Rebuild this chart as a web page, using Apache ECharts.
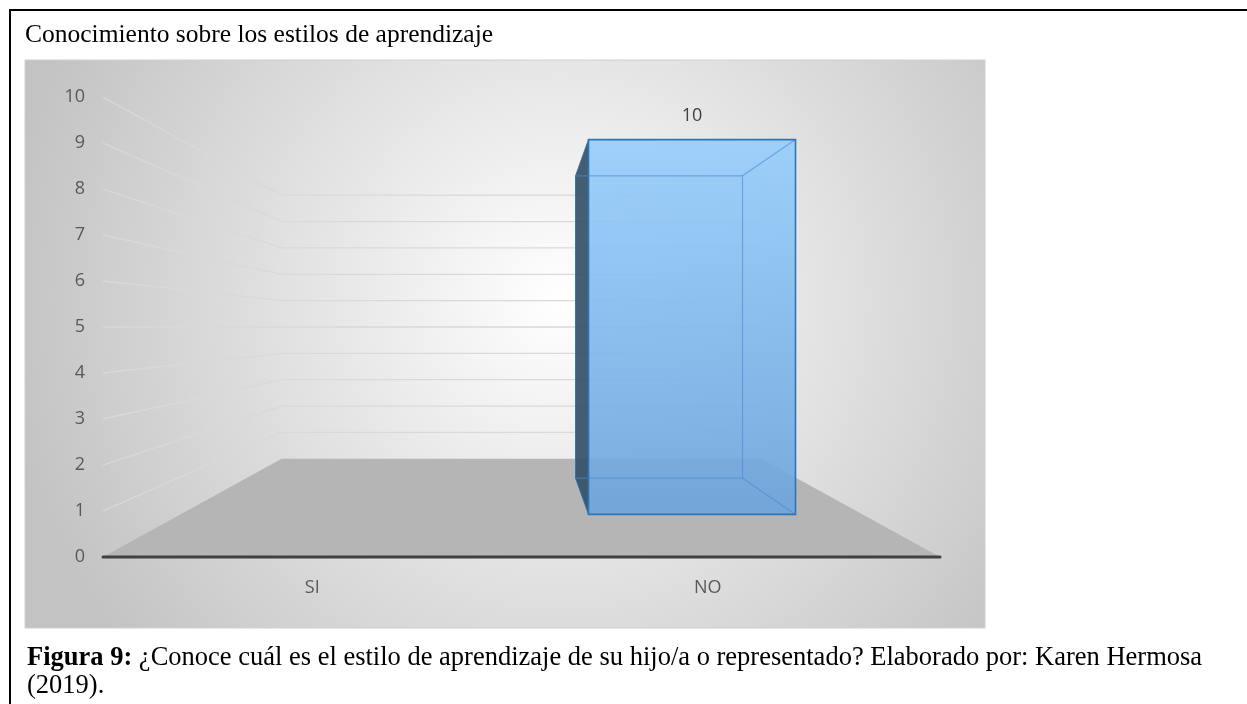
<!DOCTYPE html>
<html>
<head>
<meta charset="utf-8">
<title>Conocimiento sobre los estilos de aprendizaje</title>
<script src="https://cdn.jsdelivr.net/npm/echarts/dist/echarts.min.js"></script>
<style>
  html, body { margin: 0; padding: 0; background: #fff; }
  #chart { width: 1247px; height: 704px; }
</style>
</head>
<body>
<div id="chart"></div>
<script>
const categories = ['SI', 'NO'];
const values = [0, 10];
const yTicks = [0, 1, 2, 3, 4, 5, 6, 7, 8, 9, 10];
const titleText = 'Conocimiento sobre los estilos de aprendizaje';
const captionBold = 'Figura 9:';
const captionLine1 = ' ¿Conoce cuál es el estilo de aprendizaje de su hijo/a o representado? Elaborado por: Karen Hermosa';
const captionLine2 = '(2019).';

// perspectiva: punto de fuga sobre el plano frontal (unidades de datos)
const EYE = [1, 5];
const DEPTH = 0.745;     // 1/s = 1 + DEPTH * z
const BAR_HALF = 0.3035; // media anchura de la columna (unidades de categoria)
const BAR_Z = [0.305, 0.70];

function project(api, x, y, z) {
  const p = api.coord([x, y]);
  const v = api.coord(EYE);
  const s = 1 / (1 + DEPTH * z);
  return [v[0] + s * (p[0] - v[0]), v[1] + s * (p[1] - v[1])];
}

function seg(a, b, style) {
  return { type: 'line', shape: { x1: a[0], y1: a[1], x2: b[0], y2: b[1] }, style: style };
}

const chart = echarts.init(document.getElementById('chart'));

const option = {
  animation: false,
  title: {
    text: titleText,
    left: 20,
    top: 17,
    textStyle: { fontFamily: 'Liberation Serif', fontSize: 25.5, fontWeight: 'normal', color: '#000' }
  },
  graphic: {
    elements: [
      {
        type: 'rect', z: -10, silent: true,
        shape: { x: 10, y: 10, width: 1250, height: 710 },
        style: { fill: '#fff', stroke: '#000', lineWidth: 2 }
      },
      {
        type: 'rect', z: -9, silent: true,
        shape: { x: 25, y: 60, width: 960, height: 568 },
        style: {
          fill: new echarts.graphic.RadialGradient(560, 300, 560, [
            { offset: 0, color: '#ffffff' },
            { offset: 1, color: '#c3c3c3' }
          ], true),
          stroke: '#cfcfcf', lineWidth: 1
        }
      },
      {
        type: 'text', left: 27, top: 644,
        style: {
          text: '{b|' + captionBold + '}' + captionLine1 + '\n' + captionLine2,
          fontFamily: 'Liberation Serif', fontSize: 26.5, lineHeight: 28, fill: '#000',
          rich: { b: { fontFamily: 'Liberation Serif', fontSize: 26.5, lineHeight: 28, fontWeight: 'bold', fill: '#000' } }
        }
      }
    ]
  },
  grid: { left: 103, right: 307, top: 97, bottom: 147 },
  xAxis: [
    {
      type: 'category',
      data: categories,
      axisLine: { show: false },
      axisTick: { show: false },
      axisLabel: {
        margin: 22,
        fontFamily: 'Open Sans', fontSize: 18, color: '#595959',
        formatter: function (v, i) { return i === 1 ? '{n|' + v + '}' : v; },
        rich: { n: { fontFamily: 'Open Sans', fontSize: 18, color: '#595959', padding: [0, 46, 0, 0] } }
      }
    },
    { type: 'value', min: 0, max: 2, show: false }
  ],
  yAxis: {
    type: 'value', min: 0, max: 10, interval: 1,
    axisLine: { show: false },
    axisTick: { show: false },
    splitLine: { show: false },
    axisLabel: { margin: 18, fontFamily: 'Open Sans', fontSize: 18, color: '#595959' }
  },
  series: [
    {
      name: 'suelo', type: 'custom', xAxisIndex: 1, z: 1, silent: true,
      data: [[0, 0]],
      renderItem: function (params, api) {
        const fl = project(api, 0, 0, 0), fr = project(api, 2, 0, 0);
        const br = project(api, 2, 0, 1), bl = project(api, 0, 0, 1);
        return {
          type: 'group', children: [
            { type: 'polygon', shape: { points: [fl, fr, br, bl] }, style: { fill: '#b5b5b5' } },
            seg(fl, fr, { stroke: '#404040', lineWidth: 3, lineCap: 'round' })
          ]
        };
      }
    },
    {
      name: 'paredes', type: 'custom', xAxisIndex: 1, z: 2, silent: true,
      data: yTicks.map(v => [0, v]),
      renderItem: function (params, api) {
        const v = api.value(1);
        if (v === 0) return null;
        const a = project(api, 0, v, 0), b = project(api, 0, v, 1), c = project(api, 2, v, 1);
        return {
          type: 'polyline', shape: { points: [a, b, c] },
          style: { stroke: '#d9d9d9', lineWidth: 1.3, fill: null }
        };
      }
    },
    {
      name: 'columnas', type: 'custom', xAxisIndex: 1, z: 3, silent: true,
      data: values.map((v, i) => [i, v]),
      renderItem: function (params, api) {
        const v = api.value(1);
        if (!v) return null;
        const cx = api.value(0) + 0.5;
        const x0 = cx - BAR_HALF, x1 = cx + BAR_HALF;
        const zf = BAR_Z[0], zb = BAR_Z[1];
        const ftl = project(api, x0, v, zf), ftr = project(api, x1, v, zf);
        const fbl = project(api, x0, 0, zf), fbr = project(api, x1, 0, zf);
        const btl = project(api, x0, v, zb), btr = project(api, x1, v, zb);
        const bbl = project(api, x0, 0, zb), bbr = project(api, x1, 0, zb);
        const back = { stroke: 'rgba(70,140,210,0.6)', lineWidth: 1.2 };
        const edge = { stroke: '#2e75b6', lineWidth: 1.6 };
        return {
          type: 'group', children: [
            { type: 'polygon', shape: { points: [btl, ftl, fbl, bbl] }, style: { fill: 'rgba(52,80,104,0.92)' } },
            {
              type: 'polygon', shape: { points: [ftl, ftr, fbr, fbl] },
              style: {
                fill: new echarts.graphic.LinearGradient(0, 0, 0, 1, [
                  { offset: 0, color: 'rgba(150,205,253,0.9)' },
                  { offset: 1, color: 'rgba(108,164,220,0.9)' }
                ])
              }
            },
            { type: 'polyline', shape: { points: [btl, btr, bbr, bbl] }, style: Object.assign({ fill: null }, back) },
            seg(btr, ftr, back),
            seg(bbr, fbr, back),
            { type: 'polygon', shape: { points: [btl, ftl, fbl, bbl] }, style: { fill: null, stroke: '#2e75b6', lineWidth: 1 } },
            { type: 'polygon', shape: { points: [ftl, ftr, fbr, fbl] }, style: Object.assign({ fill: null }, edge) },
            {
              type: 'text',
              style: {
                text: String(v), x: (ftl[0] + ftr[0]) / 2, y: ftl[1] - 24,
                align: 'center', verticalAlign: 'middle',
                fontFamily: 'Open Sans', fontSize: 18, fill: '#404040'
              }
            }
          ]
        };
      }
    }
  ]
};

chart.setOption(option);
</script>
</body>
</html>
